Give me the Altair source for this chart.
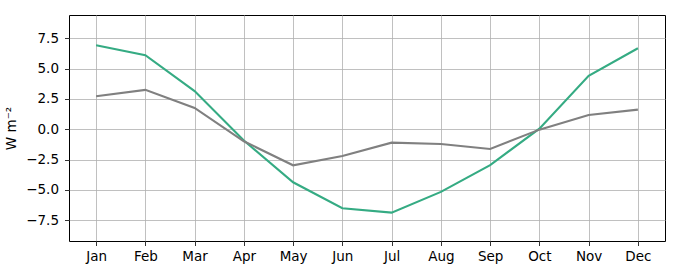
import altair as alt
import pandas as pd

months = ["Jan", "Feb", "Mar", "Apr", "May", "Jun", "Jul", "Aug", "Sep", "Oct", "Nov", "Dec"]
green_vals = [6.92, 6.10, 3.15, -0.93, -4.37, -6.51, -6.87, -5.16, -2.95, 0.05, 4.40, 6.68]
gray_vals = [2.72, 3.25, 1.76, -0.99, -2.97, -2.20, -1.10, -1.21, -1.62, -0.03, 1.18, 1.62]
series_names = ["green", "gray"]
series_colors = ["#35ab83", "#808080"]

rows = []
for name, vals in zip(series_names, [green_vals, gray_vals]):
    for i, (m, v) in enumerate(zip(months, vals)):
        rows.append({"month": m, "idx": i + 1, "value": v, "series": name})
df = pd.DataFrame(rows)

label_expr = "[" + ",".join(f"'{m}'" for m in months) + "][datum.value - 1]"

chart = alt.Chart(df).mark_line(strokeWidth=2.1, clip=True).encode(
    x=alt.X("idx:Q", scale=alt.Scale(domain=[0.45, 12.55], nice=False, zero=False),
            axis=alt.Axis(values=list(range(1, 13)), labelExpr=label_expr, title=None,
                          grid=True, labelPadding=4)),
    y=alt.Y("value:Q", scale=alt.Scale(domain=[-9.21, 9.42], nice=False, zero=False),
            axis=alt.Axis(values=[-7.5, -5.0, -2.5, 0.0, 2.5, 5.0, 7.5], format=".1f",
                          title="W m⁻²", grid=True, labelPadding=6)),
    color=alt.Color("series:N", scale=alt.Scale(domain=series_names, range=series_colors),
                    legend=None),
    detail="series:N",
).properties(
    width=596, height=226,
    autosize=alt.AutoSizeParams(type="none"),
    padding={"left": 69, "top": 15, "right": 15, "bottom": 39},
).configure_view(
    stroke="black", strokeWidth=1
).configure_axis(
    domain=False,
    gridColor="#b0b0b0", gridWidth=0.8, gridOpacity=1,
    tickColor="black", tickSize=4.5, tickWidth=0.8,
    labelFont="DejaVu Sans", labelFontSize=13.5, labelColor="black",
    titleFont="DejaVu Sans", titleFontSize=13.5, titleFontWeight="normal", titleColor="black",
).configure_axisY(
    titlePadding=7,
)

chart.save("out.html", embed_options={"renderer": "svg", "actions": False})
